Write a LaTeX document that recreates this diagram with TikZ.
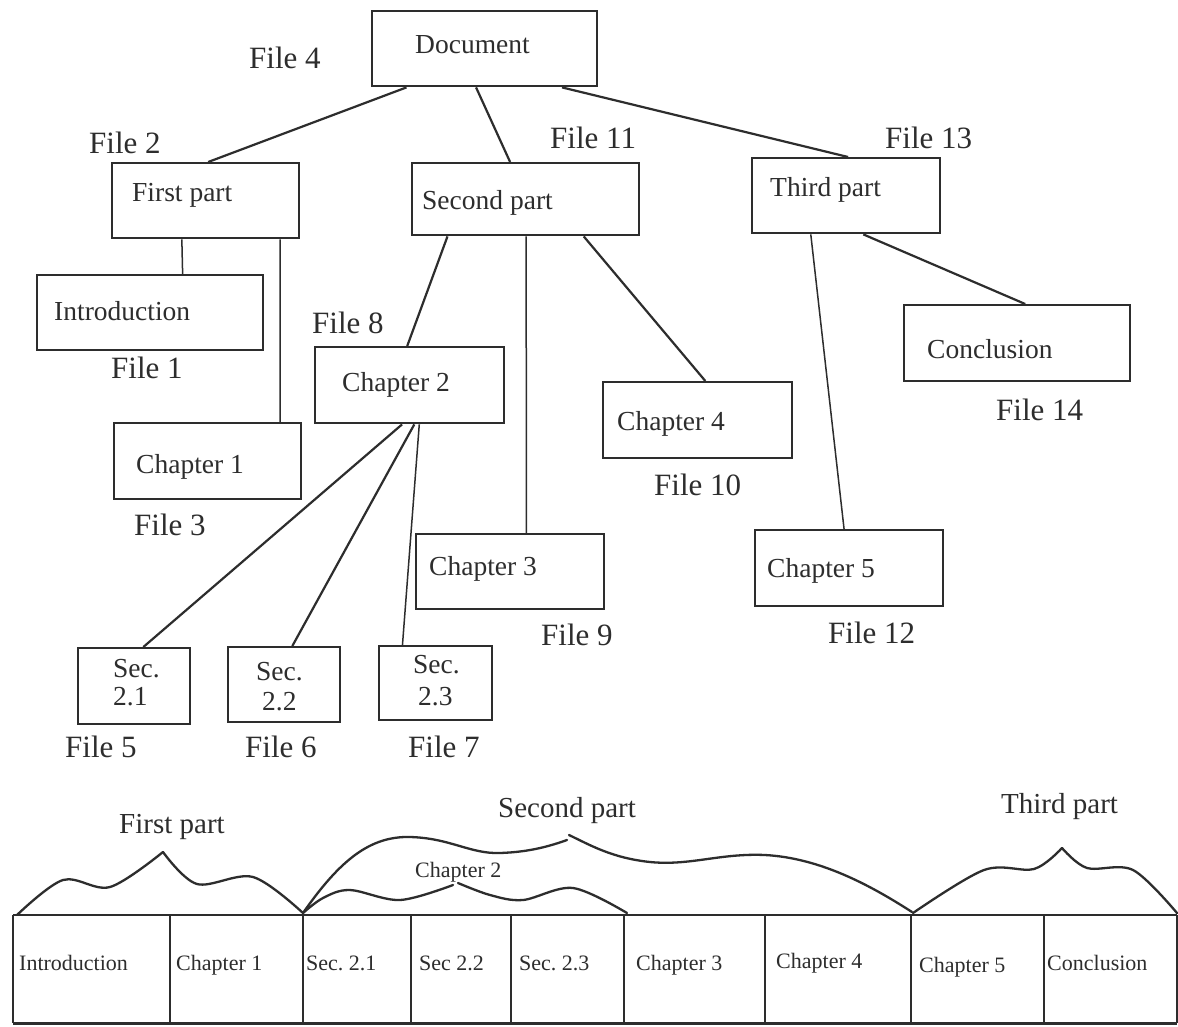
\documentclass[tikz,border=0pt]{standalone}
\usepackage{fontspec}
\setmainfont{Liberation Serif}
\usetikzlibrary{calc}
\frenchspacing
\definecolor{ink}{RGB}{45,45,45}
\tikzset{
  box/.style={draw=ink, line width=2.4pt, rectangle, inner sep=0pt, anchor=north west},
  conn/.style={draw=ink, line width=2.2pt},
  thinconn/.style={draw=ink, line width=1.5pt},
  btext/.style={text=ink, anchor=base west, inner sep=0pt, font=\fontsize{27.5}{33}\selectfont},
  ftext/.style={text=ink, anchor=base west, inner sep=0pt, font=\fontsize{31}{37}\selectfont},
  ctext/.style={text=ink, anchor=base west, inner sep=0pt, font=\fontsize{22}{26}\selectfont},
  ptext/.style={text=ink, anchor=base west, inner sep=0pt, font=\fontsize{29}{35}\selectfont},
  brace/.style={draw=ink, line width=2.3pt, line join=round, line cap=round},
}
\newcommand\linkbox[5][conn]{\draw[#1] ($(#2.south west)!#3!(#2.south east)$) -- ($(#4.north west)!#5!(#4.north east)$);}
\begin{document}
\begin{tikzpicture}[x=1pt,y=-1pt]
\useasboundingbox[fill=white] (0,0) rectangle (1178,1026);

% ---- boxes
\node[box, minimum width=225pt, minimum height=75pt] (doc) at (371,10) {};
\node[box, minimum width=187pt, minimum height=75pt] (fp) at (111,162) {};
\node[box, minimum width=226pt, minimum height=75pt] (intro) at (36,274) {};
\node[box, minimum width=227pt, minimum height=72pt] (sp) at (411,162) {};
\node[box, minimum width=189pt, minimum height=76pt] (ch2) at (314,346) {};
\node[box, minimum width=188pt, minimum height=75pt] (tp) at (751,157) {};
\node[box, minimum width=226pt, minimum height=76pt] (concl) at (903,304) {};
\node[box, minimum width=187pt, minimum height=76pt] (ch1) at (113,422) {};
\node[box, minimum width=188pt, minimum height=75pt] (ch3) at (415,533) {};
\node[box, minimum width=189pt, minimum height=76pt] (ch4) at (602,381) {};
\node[box, minimum width=188pt, minimum height=76pt] (ch5) at (754,529) {};
\node[box, minimum width=112pt, minimum height=76pt] (s21) at (77,647) {};
\node[box, minimum width=112pt, minimum height=75pt] (s22) at (227,646) {};
\node[box, minimum width=113pt, minimum height=74pt] (s23) at (378,645) {};

% ---- box texts
\node[btext] (tdoc) at (415,53) {Document};
\node[btext] (tfp) at (132,201) {First part};
\node[btext] (tintro) at (54,320) {Introduction};
\node[btext] (tsp) at (422,209) {Second part};
\node[btext] (tch2) at (342,391) {Chapter 2};
\node[btext] (ttp) at (770,196) {Third part};
\node[btext] (tconcl) at (927,358) {Conclusion};
\node[btext] (tch1) at (136,473) {Chapter 1};
\node[btext] (tch3) at (429,575) {Chapter 3};
\node[btext] (tch4) at (617,430) {Chapter 4};
\node[btext] (tch5) at (767,577) {Chapter 5};
\node[btext] (ts21a) at (113,677) {Sec.};
\node[btext] (ts21b) at (113,705) {2.1};
\node[btext] (ts22a) at (256,680) {Sec.};
\node[btext] (ts22b) at (262,710) {2.2};
\node[btext] (ts23a) at (413,673) {Sec.};
\node[btext] (ts23b) at (418,705) {2.3};

% ---- file labels
\node[ftext] (f4) at (249,68) {File 4};
\node[ftext] (f2) at (89,153) {File 2};
\node[ftext] (f11) at (550,148) {File 11};
\node[ftext] (f13) at (885,148) {File 13};
\node[ftext] (f1) at (111,378) {File 1};
\node[ftext] (f8) at (312,333) {File 8};
\node[ftext] (f14) at (996,420) {File 14};
\node[ftext] (f10) at (654,495) {File 10};
\node[ftext] (f3) at (134,535) {File 3};
\node[ftext] (f9) at (541,645) {File 9};
\node[ftext] (f12) at (828,643) {File 12};
\node[ftext] (f5) at (65,757) {File 5};
\node[ftext] (f6) at (245,757) {File 6};
\node[ftext] (f7) at (408,757) {File 7};

% ---- connectors
\linkbox{doc}{0.156}{fp}{0.513}
\linkbox{doc}{0.462}{sp}{0.432}
\linkbox{doc}{0.84}{tp}{0.51}
\linkbox[thinconn]{fp}{0.374}{intro}{0.642}
\linkbox[thinconn]{fp}{0.893}{ch1}{0.882}
\linkbox{sp}{0.159}{ch2}{0.487}
\linkbox[thinconn]{sp}{0.502}{ch3}{0.585}
\linkbox{sp}{0.753}{ch4}{0.54}
\linkbox{tp}{0.59}{concl}{0.535}
\linkbox[thinconn]{tp}{0.314}{ch5}{0.473}
\linkbox{ch2}{0.46}{s21}{0.58}
\linkbox{ch2}{0.524}{s22}{0.571}
\linkbox[thinconn]{ch2}{0.55}{s23}{0.212}

% ---- bottom table
\draw[ink, line width=2.6pt] (13,915) -- (1177,915);
\draw[ink, line width=3pt] (13,1023) -- (1177,1023);
\foreach \xx in {13,170,303,411,511,624,765,911,1044,1177}
  \draw[ink, line width=1.6pt] (\xx,915) -- (\xx,1023);
\node[ctext] (cintro) at (19,970) {Introduction};
\node[ctext] (cch1) at (176,970) {Chapter 1};
\node[ctext] (cs21) at (306,970) {Sec. 2.1};
\node[ctext] (cs22) at (419,970) {Sec 2.2};
\node[ctext] (cs23) at (519,970) {Sec. 2.3};
\node[ctext] (cch3) at (636,970) {Chapter 3};
\node[ctext] (cch4) at (776,968) {Chapter 4};
\node[ctext] (cch5) at (919,972) {Chapter 5};
\node[ctext] (cconcl) at (1047,970) {Conclusion};

% ---- braces
\draw[brace] plot[smooth, tension=0.55] coordinates {(17,915) (63,880) (110,887) (163,852)};
\draw[brace] plot[smooth, tension=0.55] coordinates {(163,852) (197,884) (253,877) (303,913)};
\draw[brace] (303,913) .. controls (340,860) and (370,836) .. (410,837)
  .. controls (450,838) and (470,854) .. (500,853)
  .. controls (530,852) and (550,846) .. (567,840);
\draw[brace] (569,835) .. controls (590,845) and (612,858) .. (650,862)
  .. controls (690,866) and (720,853) .. (765,855)
  .. controls (820,858) and (870,885) .. (912,912);
\draw[brace] plot[smooth, tension=0.55] coordinates {(303,913) (323,898) (350,890) (400,900) (453,885)};
\draw[brace] plot[smooth, tension=0.55] coordinates {(458,883) (490,895) (523,900) (573,888) (627,913)};
\draw[brace] plot[smooth, tension=0.55] coordinates {(913,913) (984,870) (1034,869) (1062,848)};
\draw[brace] plot[smooth, tension=0.55] coordinates {(1062,848) (1087,868) (1133,870) (1177,913)};

\node[ptext] (lfp) at (119,833) {First part};
\node[ptext] (lsp) at (498,817) {Second part};
\node[ptext] (ltp) at (1001,813) {Third part};
\node[ctext] (lch2) at (415,877) {Chapter 2};
\end{tikzpicture}
\end{document}
